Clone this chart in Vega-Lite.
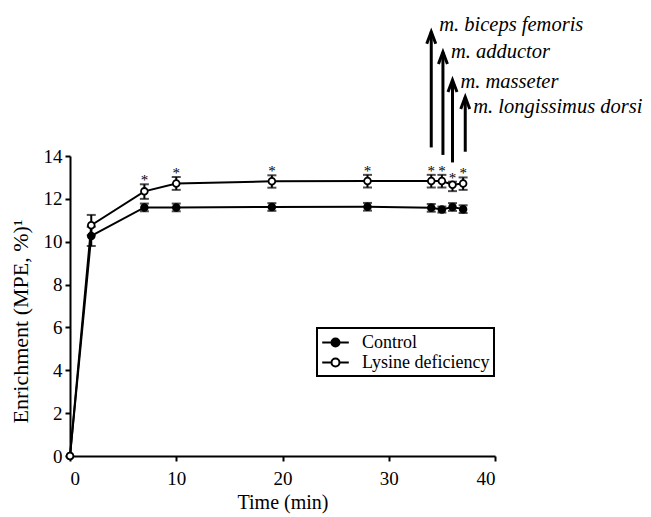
{
  "$schema": "https://vega.github.io/schema/vega-lite/v6.json",
  "width": 425,
  "height": 300,
  "autosize": {"type": "none"},
  "padding": {"left": 70, "top": 156, "right": 156, "bottom": 61},
  "background": "white",
  "config": {
    "view": {"stroke": null},
    "font": "Liberation Serif",
    "legend": {"strokeWidth": 2},
    "axis": {
      "domainColor": "black",
      "domainWidth": 2,
      "tickColor": "black",
      "tickWidth": 2,
      "tickSize": 5,
      "grid": false,
      "labelFont": "Liberation Serif",
      "labelFontSize": 19,
      "labelColor": "black",
      "titleFont": "Liberation Serif",
      "titleFontWeight": "normal",
      "titleColor": "black"
    }
  },
  "datasets": {
    "series": [
      {"t": 0, "group": "Control", "mean": 0, "lo": null, "hi": null, "star": ""},
      {"t": 2, "group": "Control", "mean": 10.27, "lo": 9.8, "hi": 10.7, "star": ""},
      {"t": 7, "group": "Control", "mean": 11.6, "lo": 11.42, "hi": 11.78, "star": ""},
      {"t": 10, "group": "Control", "mean": 11.6, "lo": 11.42, "hi": 11.78, "star": ""},
      {"t": 19, "group": "Control", "mean": 11.62, "lo": 11.44, "hi": 11.8, "star": ""},
      {"t": 28, "group": "Control", "mean": 11.63, "lo": 11.45, "hi": 11.81, "star": ""},
      {"t": 34, "group": "Control", "mean": 11.58, "lo": 11.4, "hi": 11.76, "star": ""},
      {"t": 35, "group": "Control", "mean": 11.5, "lo": 11.36, "hi": 11.64, "star": ""},
      {"t": 36, "group": "Control", "mean": 11.62, "lo": 11.44, "hi": 11.8, "star": ""},
      {"t": 37, "group": "Control", "mean": 11.52, "lo": 11.34, "hi": 11.7, "star": ""},
      {"t": 0, "group": "Lysine deficiency", "mean": 0, "lo": null, "hi": null, "star": ""},
      {"t": 2, "group": "Lysine deficiency", "mean": 10.77, "lo": 10.3, "hi": 11.25, "star": ""},
      {"t": 7, "group": "Lysine deficiency", "mean": 12.35, "lo": 12.0, "hi": 12.68, "star": "*"},
      {"t": 10, "group": "Lysine deficiency", "mean": 12.72, "lo": 12.42, "hi": 13.02, "star": "*"},
      {"t": 19, "group": "Lysine deficiency", "mean": 12.82, "lo": 12.52, "hi": 13.1, "star": "*"},
      {"t": 28, "group": "Lysine deficiency", "mean": 12.83, "lo": 12.53, "hi": 13.12, "star": "*"},
      {"t": 34, "group": "Lysine deficiency", "mean": 12.83, "lo": 12.53, "hi": 13.12, "star": "*"},
      {"t": 35, "group": "Lysine deficiency", "mean": 12.83, "lo": 12.53, "hi": 13.12, "star": "*"},
      {"t": 36, "group": "Lysine deficiency", "mean": 12.66, "lo": 12.36, "hi": 12.8, "star": "*"},
      {"t": 37, "group": "Lysine deficiency", "mean": 12.72, "lo": 12.42, "hi": 13.0, "star": "*"}
    ],
    "arrows": [
      {"t": 34, "y0": 14.4, "y1": 19.8, "ly": 20.1, "label": "m. biceps femoris"},
      {"t": 35.1, "y0": 14.05, "y1": 18.85, "ly": 18.87, "label": "m. adductor"},
      {"t": 36, "y0": 13.7, "y1": 17.55, "ly": 17.47, "label": "m. masseter"},
      {"t": 37.2, "y0": 14.2, "y1": 16.75, "ly": 16.27, "label": "m. longissimus dorsi"}
    ]
  },
  "encoding": {
    "x": {
      "field": "t", "type": "quantitative", "title": "Time (min)",
      "scale": {"domain": [0, 40], "nice": false},
      "axis": {"values": [0, 10, 20, 30, 40], "labelFont": "Liberation Serif", "labelFontSize": 19, "titleFont": "Liberation Serif", "titleFontSize": 20, "titleFontWeight": "normal", "labelPadding": 8, "titlePadding": 4}
    }
  },
  "layer": [
    {
      "data": {"name": "series"},
      "mark": {"type": "line", "stroke": "black", "strokeWidth": 2},
      "encoding": {
        "y": {
          "field": "mean", "type": "quantitative", "title": "Enrichment (MPE, %)¹",
          "scale": {"domain": [0, 14], "nice": false},
          "axis": {"values": [0, 2, 4, 6, 8, 10, 12, 14], "labelFont": "Liberation Serif", "labelFontSize": 19, "titleFont": "Liberation Serif", "titleFontSize": 22, "titleFontWeight": "normal", "labelPadding": 3, "titleX": -50, "titleY": 165, "titleAlign": "center", "titleBaseline": "middle", "titleAngle": -90}
        },
        "detail": {"field": "group"}
      }
    },
    {
      "data": {"name": "series"},
      "mark": {"type": "errorbar", "color": "black", "ticks": {"size": 9, "thickness": 2}, "rule": {"strokeWidth": 2}},
      "encoding": {
        "y": {"field": "lo", "type": "quantitative", "title": "Enrichment (MPE, %)¹"},
        "y2": {"field": "hi"}
      }
    },
    {
      "data": {"name": "series"},
      "mark": {"type": "point", "shape": "circle", "filled": true, "stroke": "black", "strokeWidth": 1.8, "size": 45, "opacity": 1},
      "encoding": {
        "y": {"field": "mean", "type": "quantitative", "title": "Enrichment (MPE, %)¹"},
        "fill": {
          "field": "group", "type": "nominal",
          "scale": {"domain": ["Control", "Lysine deficiency"], "range": ["black", "white"]},
          "legend": {
            "title": null, "orient": "none", "legendX": 247, "legendY": 172,
            "strokeColor": "black", "padding": 4, "symbolOffset": 4,
            "symbolType": "M-1.4,0H-0.42M0.42,0H1.4M0.42,0A0.42,0.42,0,1,1,-0.42,0A0.42,0.42,0,1,1,0.42,0",
            "symbolSize": 361, "symbolStrokeColor": "black", "symbolStrokeWidth": 2, "symbolOpacity": 1,
            "labelFont": "Liberation Serif", "labelFontSize": 18, "labelColor": "black", "labelOffset": 16,
            "rowPadding": 0, "labelLimit": 300
          }
        }
      }
    },
    {
      "data": {"name": "series"},
      "mark": {"type": "text", "font": "Liberation Serif", "fontSize": 15, "baseline": "alphabetic", "align": "center", "dy": 1, "fill": "black"},
      "encoding": {
        "y": {"field": "hi", "type": "quantitative", "title": "Enrichment (MPE, %)¹"},
        "text": {"field": "star"}
      }
    },
    {
      "data": {"name": "arrows"},
      "mark": {"type": "rule", "stroke": "black", "strokeWidth": 3},
      "encoding": {
        "y": {"field": "y0", "type": "quantitative", "title": "Enrichment (MPE, %)¹"},
        "y2": {"field": "y1"}
      }
    },
    {
      "data": {"name": "arrows"},
      "mark": {"type": "point", "shape": "M-0.75,1L0,-1L0.75,1", "filled": false, "stroke": "black", "strokeWidth": 3, "size": 144, "opacity": 1, "yOffset": 6},
      "encoding": {
        "y": {"field": "y1", "type": "quantitative", "title": "Enrichment (MPE, %)¹"}
      }
    },
    {
      "data": {"name": "arrows"},
      "mark": {"type": "text", "font": "Liberation Serif", "fontStyle": "italic", "fontSize": 20.5, "align": "left", "baseline": "middle", "dx": 8, "fill": "black"},
      "encoding": {
        "y": {"field": "ly", "type": "quantitative", "title": "Enrichment (MPE, %)¹"},
        "text": {"field": "label"}
      }
    }
  ]
}
